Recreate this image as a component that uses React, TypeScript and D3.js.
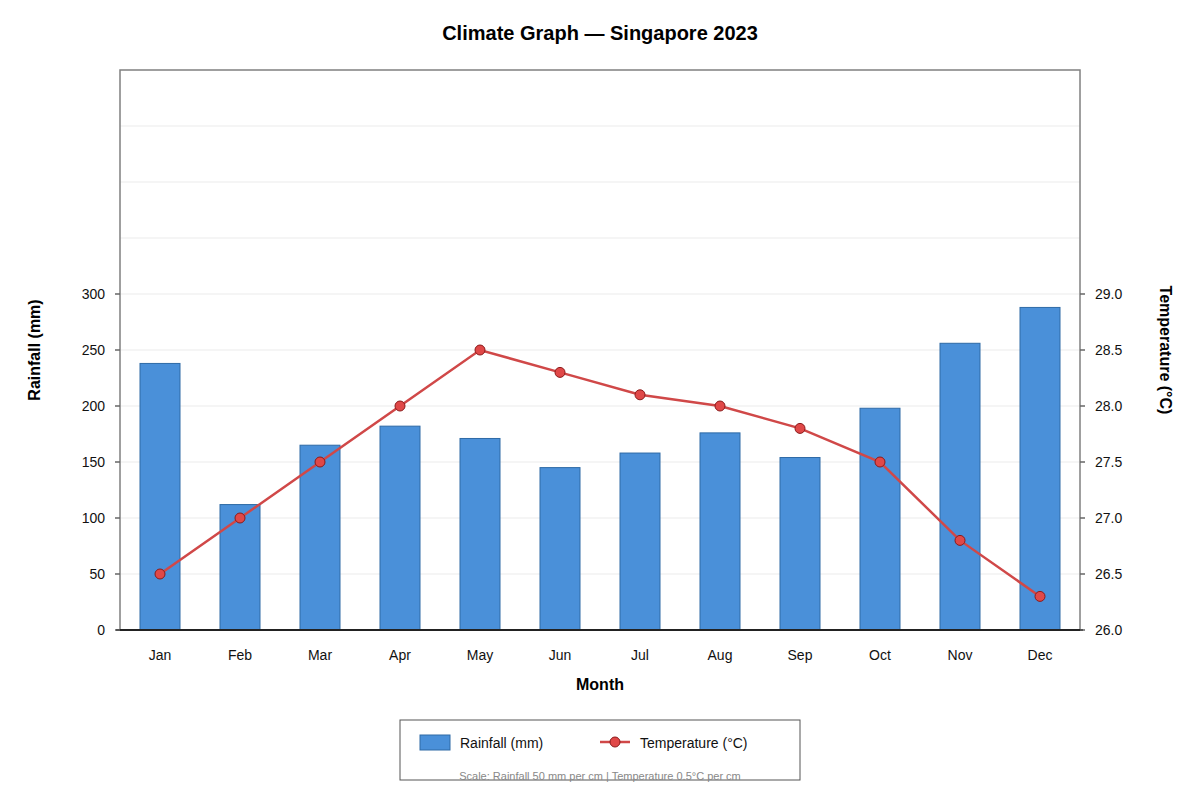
import * as d3 from "d3";

const months = ["Jan", "Feb", "Mar", "Apr", "May", "Jun", "Jul", "Aug", "Sep", "Oct", "Nov", "Dec"];
const rainfall = [238, 112, 165, 182, 171, 145, 158, 176, 154, 198, 256, 288];
const temperature = [26.5, 27.0, 27.5, 28.0, 28.5, 28.3, 28.1, 28.0, 27.8, 27.5, 26.8, 26.3];
const rainTicks = [0, 50, 100, 150, 200, 250, 300];
const tempTicks = [26.0, 26.5, 27.0, 27.5, 28.0, 28.5, 29.0];
const gridValues = [50, 100, 150, 200, 250, 300, 350, 400, 450];

const W = 1200;
const H = 800;
const left = 120;
const right = 1080;
const top = 70;
const bottom = 630;
const font = "Liberation Sans, Arial, sans-serif";

export default function App() {
    const x = d3.scaleBand<string>().domain(months).range([left, right]).paddingInner(0.5).paddingOuter(0.25);
    const yRain = d3.scaleLinear().domain([0, 500]).range([bottom, top]);
    const yTemp = d3.scaleLinear().domain([26, 31]).range([bottom, top]);

    const pts = months.map((m, i) => ({ m, t: temperature[i] }));
    const line = d3
        .line<{ m: string; t: number }>()
        .x((d) => (x(d.m) ?? 0) + x.bandwidth() / 2)
        .y((d) => yTemp(d.t));

    return (
        <svg width={W} height={H} style={{ position: "absolute", left: 0, top: 0 }} fontFamily={font}>
            <rect width={W} height={H} fill="#fff" />
            <text x={600} y={40} textAnchor="middle" fontSize={20} fontWeight="bold">
                Climate Graph — Singapore 2023
            </text>

            {/* gridlines */}
            {gridValues.map((v) => (
                <line key={v} x1={left} x2={right} y1={yRain(v)} y2={yRain(v)} stroke="#ebebeb" strokeWidth={1} />
            ))}

            {/* plot frame */}
            <rect x={left} y={top} width={right - left} height={bottom - top} fill="none" stroke="#808080" strokeWidth={1.5} />

            {/* bars */}
            {months.map((m, i) => (
                <rect
                    key={m}
                    x={x(m)}
                    y={yRain(rainfall[i])}
                    width={x.bandwidth()}
                    height={bottom - yRain(rainfall[i])}
                    fill="#4a90d9"
                    stroke="#2e6aa6"
                    strokeWidth={1}
                />
            ))}

            {/* temperature line */}
            <path d={line(pts) ?? ""} fill="none" stroke="#d04848" strokeWidth={2.5} />
            {pts.map((d) => (
                <circle
                    key={d.m}
                    cx={(x(d.m) ?? 0) + x.bandwidth() / 2}
                    cy={yTemp(d.t)}
                    r={5}
                    fill="#e04848"
                    stroke="#8b1a1a"
                    strokeWidth={1}
                />
            ))}

            {/* x axis */}
            <line x1={left - 4} x2={right + 3} y1={bottom} y2={bottom} stroke="#222" strokeWidth={2} />
            {months.map((m) => (
                <text key={m} x={(x(m) ?? 0) + x.bandwidth() / 2} y={660} textAnchor="middle" fontSize={14} fill="#111">
                    {m}
                </text>
            ))}
            <text x={600} y={690} textAnchor="middle" fontSize={16} fontWeight="bold">
                Month
            </text>

            {/* left axis */}
            {rainTicks.map((v) => (
                <g key={v}>
                    <line x1={left - 5} x2={left} y1={yRain(v)} y2={yRain(v)} stroke="#666" strokeWidth={1.5} />
                    <text x={left - 15} y={yRain(v) + 5} textAnchor="end" fontSize={14} fill="#111">
                        {v}
                    </text>
                </g>
            ))}
            <text
                transform={`translate(40,${350}) rotate(-90)`}
                textAnchor="middle"
                fontSize={16}
                fontWeight="bold"
            >
                Rainfall (mm)
            </text>

            {/* right axis */}
            {tempTicks.map((v) => (
                <g key={v}>
                    <line x1={right} x2={right + 5} y1={yTemp(v)} y2={yTemp(v)} stroke="#666" strokeWidth={1.5} />
                    <text x={right + 15} y={yTemp(v) + 5} textAnchor="start" fontSize={14} fill="#111">
                        {v.toFixed(1)}
                    </text>
                </g>
            ))}
            <text
                transform={`translate(1160,${350}) rotate(90)`}
                textAnchor="middle"
                fontSize={16}
                fontWeight="bold"
            >
                Temperature (°C)
            </text>

            {/* legend */}
            <rect x={400} y={720} width={400} height={60} fill="#fff" stroke="#555" strokeWidth={1} />
            <rect x={420} y={735} width={30} height={15} fill="#4a90d9" stroke="#2e6aa6" />
            <text x={460} y={748} fontSize={14} fill="#111">
                Rainfall (mm)
            </text>
            <line x1={600} x2={630} y1={742} y2={742} stroke="#d04848" strokeWidth={2.5} />
            <circle cx={615} cy={742} r={5} fill="#e04848" stroke="#8b1a1a" />
            <text x={640} y={748} fontSize={14} fill="#111">
                Temperature (°C)
            </text>
            <text x={600} y={780} textAnchor="middle" fontSize={11} fill="#888">
                Scale: Rainfall 50 mm per cm | Temperature 0.5°C per cm
            </text>
        </svg>
    );
}
